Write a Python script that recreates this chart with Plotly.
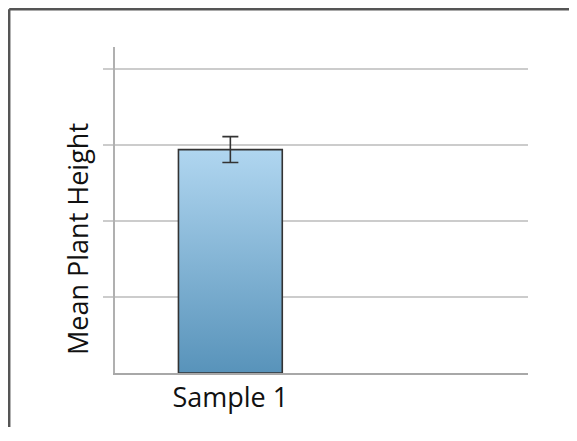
import plotly.graph_objects as go

categories = ["Sample 1"]
x_pos = [0]
mean_height = [2.94]
error = [0.17]
grid_vals = [1, 2, 3, 4]
y_title = "Mean Plant Height"

bar_width = 0.45
top_color = "#b0d6f0"
bottom_color = "#5893ba"

OFF = 8                  # page body has an 8px margin
W, H = 577 - 2 * OFF, 441 - 2 * OFF - 6
ml, mt = 107, 39
mr = W - ml - 413
mb = H - mt - 326
pw, ph = W - ml - mr, H - mt - mb

fig = go.Figure()

# bar drawn as a gradient-filled polygon built from the data
for xv, yv in zip(x_pos, mean_height):
    x0, x1 = xv - bar_width / 2, xv + bar_width / 2
    fig.add_trace(go.Scatter(
        x=[x0, x1, x1, x0, x0], y=[0, 0, yv, yv, 0],
        mode="lines", fill="toself", line=dict(width=1.6, color="#333333"),
        fillgradient=dict(type="vertical",
                          colorscale=[[0, bottom_color], [1, top_color]]),
        hoverinfo="skip", showlegend=False,
    ))

# error bars
fig.add_trace(go.Scatter(
    x=x_pos, y=mean_height, mode="markers",
    marker=dict(size=1, color="rgba(0,0,0,0)"),
    error_y=dict(type="data", array=error, visible=True,
                 color="#333333", thickness=1.6, width=8),
    showlegend=False, hoverinfo="skip",
))

# frame: only left and top edges are visible in the picture
bx0 = (1.2 - ml) / pw
bx1 = (W - ml) / pw
by0 = -mb / ph
by1 = 1 + (mt - 1.2) / ph

fig.update_layout(
    width=W, height=H,
    paper_bgcolor="white", plot_bgcolor="white",
    margin=dict(l=ml, r=mr, t=mt, b=mb),
    font=dict(family="Open Sans, Lato, sans-serif", color="#111111"),
    showlegend=False,
    xaxis=dict(
        range=[-0.5, 1.29], tickvals=x_pos, ticktext=categories,
        showgrid=False, zeroline=False, ticks="",
        showline=True, linecolor="#a8a8a8", linewidth=2,
        tickfont=dict(size=27, color="#111111"),
    ),
    yaxis=dict(
        range=[0, 4.29], tickvals=grid_vals, showticklabels=False,
        showgrid=True, gridcolor="#cccccc", gridwidth=2,
        ticks="outside", ticklen=10, tickwidth=2, tickcolor="#cccccc",
        zeroline=False, showline=True, linecolor="#b0b0b0", linewidth=2,
    ),
    annotations=[dict(text=y_title, textangle=-90, showarrow=False,
                      xref="paper", yref="paper",
                      x=(77 - OFF - ml) / pw, y=1 - (239 - OFF - mt) / ph,
                      xanchor="center", yanchor="middle",
                      font=dict(size=27, color="#111111"))],
    shapes=[
        dict(type="line", xref="paper", yref="paper",
             x0=bx0, x1=bx0, y0=by0, y1=by1,
             line=dict(color="#555555", width=2.5), layer="above"),
        dict(type="line", xref="paper", yref="paper",
             x0=bx0, x1=bx1, y0=by1, y1=by1,
             line=dict(color="#555555", width=2.5), layer="above"),
    ],
)

fig.write_html("out.html")
